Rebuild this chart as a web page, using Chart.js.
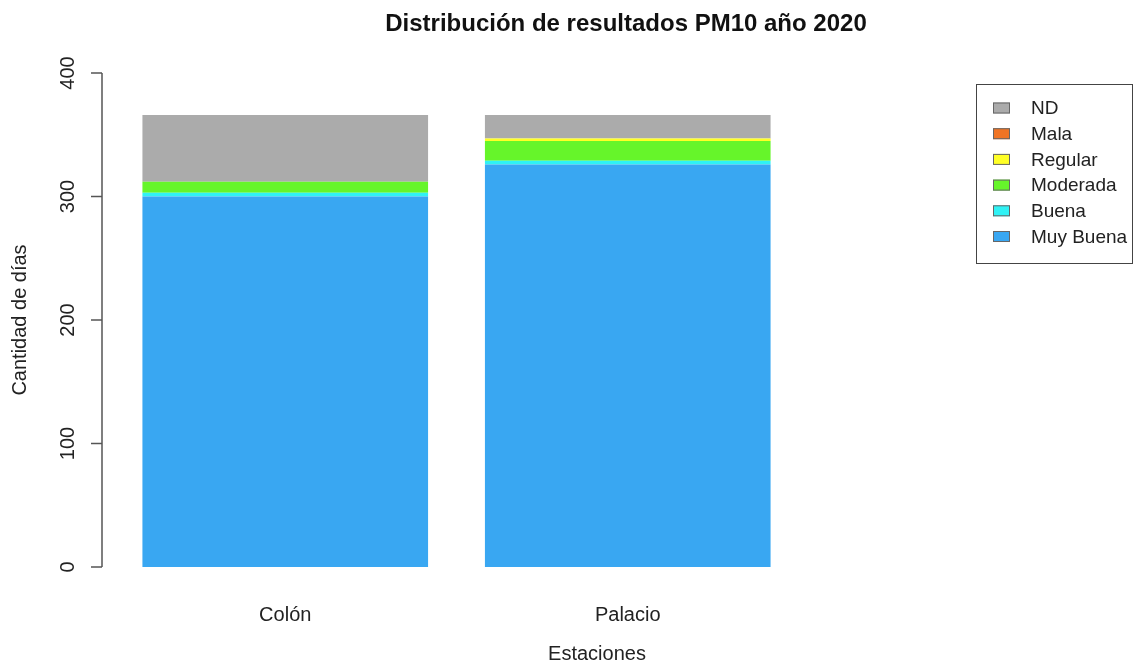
<!DOCTYPE html>
<html>
<head>
<meta charset="utf-8">
<script src="https://cdn.jsdelivr.net/npm/chart.js@4/dist/chart.umd.min.js"></script>
<style>
  html, body { margin: 0; padding: 0; background: #fff; overflow: hidden; }
  #wrap { width: 1252px; height: 666px; }
</style>
</head>
<body>
<div id="wrap"><canvas id="pm10Chart" width="1252" height="666"></canvas></div>
<script>
// Data (days per category, year 2020)
const stations = ['Colón', 'Palacio'];
const muyBuena = [300, 326];
const buena = [3, 3];
const moderada = [9, 16];
const regular = [0, 2];
const mala = [0, 0];
const nd = [54, 19];
const yTicks = [0, 100, 200, 300, 400];
const xTitle = 'Estaciones';

const FONT = "'Liberation Sans', Arial, sans-serif";
Chart.defaults.font.family = FONT;
Chart.defaults.color = '#222';

// R-style left axis: line + ticks set slightly away from the plot
const rAxis = {
  id: 'rAxis',
  afterDraw(chart) {
    const y = chart.scales.y;
    const ctx = chart.ctx;
    const x = chart.chartArea.left - 12;
    ctx.save();
    ctx.strokeStyle = '#555';
    ctx.lineWidth = 1.5;
    ctx.beginPath();
    ctx.moveTo(x, y.getPixelForValue(yTicks[0]));
    ctx.lineTo(x, y.getPixelForValue(yTicks[yTicks.length - 1]));
    yTicks.forEach(v => {
      const py = y.getPixelForValue(v);
      ctx.moveTo(x, py);
      ctx.lineTo(x - 11, py);
    });
    ctx.stroke();

    // x axis title, centred like the R plot region
    ctx.font = '20px ' + FONT;
    ctx.fillStyle = '#222';
    ctx.textAlign = 'center';
    ctx.textBaseline = 'middle';
    ctx.fillText(xTitle, 597, 654);
    ctx.restore();
  }
};

// Boxed legend on the right, top category first
const boxLegend = {
  id: 'boxLegend',
  afterDraw(chart) {
    const ctx = chart.ctx;
    const items = chart.data.datasets.slice().reverse();
    ctx.save();
    ctx.strokeStyle = '#444';
    ctx.lineWidth = 1;
    ctx.strokeRect(976.5, 84.5, 156, 179);
    ctx.font = '19px ' + FONT;
    ctx.textBaseline = 'middle';
    ctx.textAlign = 'left';
    items.forEach((ds, i) => {
      const cy = 108 + i * 25.7;
      ctx.fillStyle = ds.backgroundColor;
      ctx.fillRect(993, cy - 5.5, 17, 11);
      ctx.strokeStyle = '#666';
      ctx.strokeRect(993.5, cy - 5, 16, 10);
      ctx.fillStyle = '#222';
      ctx.fillText(ds.label, 1031, cy + 1);
    });
    ctx.restore();
  }
};

const ctx = document.getElementById('pm10Chart').getContext('2d');
new Chart(ctx, {
  type: 'bar',
  data: {
    labels: stations,
    datasets: [
      { label: 'Muy Buena', data: muyBuena, backgroundColor: '#39a7f2' },
      { label: 'Buena', data: buena, backgroundColor: '#2ff2f5' },
      { label: 'Moderada', data: moderada, backgroundColor: '#66f52a' },
      { label: 'Regular', data: regular, backgroundColor: '#ffff26' },
      { label: 'Mala', data: mala, backgroundColor: '#f07424' },
      { label: 'ND', data: nd, backgroundColor: '#ababab' }
    ]
  },
  options: {
    responsive: false,
    animation: false,
    layout: { padding: 0 },
    datasets: {
      bar: { barPercentage: 0.834, categoryPercentage: 1.0, borderWidth: 0 }
    },
    plugins: {
      legend: { display: false },
      tooltip: { enabled: false },
      title: {
        display: true,
        text: 'Distribución de resultados PM10 año 2020',
        color: '#111',
        font: { size: 24, weight: 'bold' },
        padding: { top: 10, bottom: 34.2 }
      }
    },
    scales: {
      x: {
        stacked: true,
        grid: { display: false },
        border: { display: false },
        ticks: { font: { size: 20 }, padding: 28, color: '#222' },
        afterFit: s => { s.height = 99; }
      },
      y: {
        stacked: true,
        min: 0,
        max: 400,
        afterBuildTicks: s => { s.ticks = yTicks.map(v => ({ value: v })); },
        grid: { display: false, drawTicks: false },
        border: { display: false },
        ticks: {
          font: { size: 20 },
          color: '#222',
          minRotation: 90,
          maxRotation: 90,
          crossAlign: 'center',
          padding: 29
        },
        title: { display: true, text: 'Cantidad de días', font: { size: 20 }, color: '#222', padding: { top: 8.5, bottom: 0 } },
        afterFit: s => { s.width = 114; }
      },
      yR: {
        position: 'right',
        display: true,
        grid: { display: false },
        border: { display: false },
        ticks: { display: false },
        afterFit: s => { s.width = 453; }
      }
    }
  },
  plugins: [rAxis, boxLegend]
});
</script>
</body>
</html>
